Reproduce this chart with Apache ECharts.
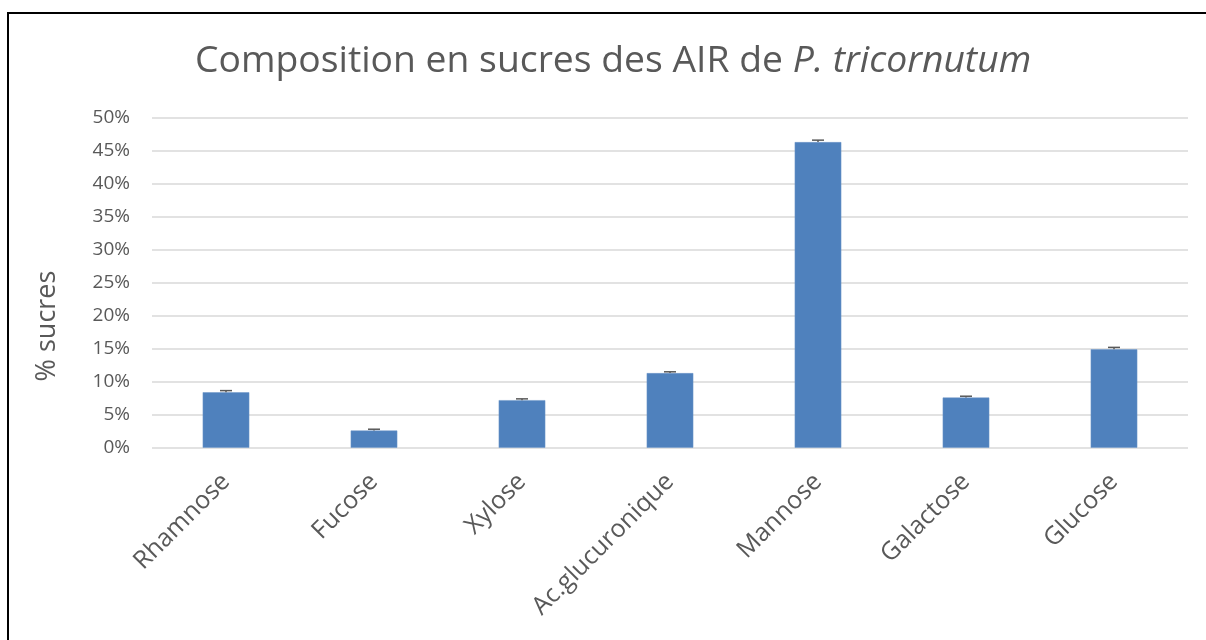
<!DOCTYPE html>
<html>
<head>
<meta charset="utf-8">
<script src="https://cdn.jsdelivr.net/npm/echarts@6/dist/echarts.min.js"></script>
<style>
  html, body { margin: 0; padding: 0; background: #fff; }
  #chart { width: 1206px; height: 640px; }
</style>
</head>
<body>
<div id="chart"></div>
<script>
// Sugar composition of the alcohol-insoluble residue (AIR)
const categories = ['Rhamnose', 'Fucose', 'Xylose', 'Ac.glucuronique', 'Mannose', 'Galactose', 'Glucose'];
const percentSugars = [8.4, 2.6, 7.2, 11.3, 46.3, 7.6, 14.9];
const errorPlus = [0.25, 0.2, 0.2, 0.2, 0.3, 0.2, 0.3];
const yTicks = [0, 5, 10, 15, 20, 25, 30, 35, 40, 45, 50];

const textColor = '#595959';
const fontFamily = 'Open Sans, Noto Sans, sans-serif';

const chart = echarts.init(document.getElementById('chart'), null, { renderer: 'canvas' });

const option = {
  animation: false,
  backgroundColor: '#ffffff',
  title: {
    text: '{n|Composition en sucres des AIR de }{i|P. tricornutum}',
    left: 190,
    top: 38,
    textStyle: {
      rich: {
        n: { fontSize: 37.3, fontWeight: 'normal', color: textColor, fontFamily: fontFamily },
        i: { fontSize: 37.3, fontWeight: 'normal', color: textColor, fontFamily: fontFamily, fontStyle: 'italic' }
      }
    }
  },
  graphic: [
    {
      type: 'rect',
      shape: { x: 8, y: 13, width: 1300, height: 700 },
      style: { fill: 'none', stroke: '#000', lineWidth: 2 },
      silent: true
    },
    {
      // value axis title
      type: 'text',
      x: 47,
      y: 326,
      rotation: Math.PI / 2,
      style: {
        text: '% sucres',
        fill: textColor,
        fontSize: 27,
        fontFamily: fontFamily,
        align: 'center',
        verticalAlign: 'middle'
      },
      silent: true
    }
  ],
  grid: { left: 152, right: 18, top: 117.7, bottom: 192.3 },
  xAxis: {
    type: 'category',
    data: categories,
    axisLine: { show: false },
    axisTick: { show: false },
    axisLabel: {
      rotate: 45,
      interval: 0,
      margin: 30,
      color: textColor,
      fontSize: 25,
      fontFamily: fontFamily
    }
  },
  yAxis: {
    type: 'value',
    min: yTicks[0],
    max: yTicks[yTicks.length - 1],
    interval: 5,
    axisLine: { show: false },
    axisTick: { show: false },
    axisLabel: {
      color: textColor,
      fontSize: 19,
      fontFamily: fontFamily,
      margin: 22,
      formatter: v => v + '%'
    },
    splitLine: { lineStyle: { color: '#d9d9d9', width: 1.5 } }
  },
  series: [
    {
      type: 'bar',
      data: percentSugars,
      barWidth: '31.5%',
      itemStyle: { color: '#4f81bd', borderColor: '#6f96c9', borderWidth: 0.5 }
    },
    {
      // plus-only error bars
      type: 'custom',
      data: percentSugars.map((v, i) => [i, v, v + errorPlus[i]]),
      renderItem: (params, api) => {
        const base = api.coord([api.value(0), api.value(1)]);
        const top = api.coord([api.value(0), api.value(2)]);
        const half = 6;
        const style = { stroke: '#595959', lineWidth: 1.5 };
        return {
          type: 'group',
          children: [
            { type: 'line', shape: { x1: base[0], y1: base[1], x2: top[0], y2: top[1] }, style: style },
            { type: 'line', shape: { x1: top[0] - half, y1: top[1], x2: top[0] + half, y2: top[1] }, style: style }
          ]
        };
      },
      z: 5
    }
  ]
};

chart.setOption(option);
</script>
</body>
</html>
